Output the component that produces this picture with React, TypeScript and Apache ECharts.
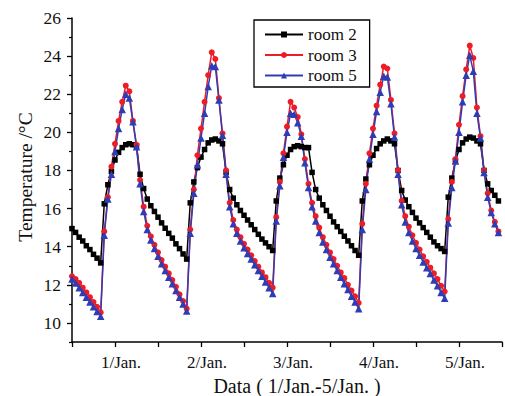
import React, { useEffect, useRef } from 'react';
import * as echarts from 'echarts';

const dayLabels = ['1/Jan.', '2/Jan.', '3/Jan.', '4/Jan.', '5/Jan.'];
const yTickValues = [10, 12, 14, 16, 18, 20, 22, 24, 26];
const yMinorValues = [9, 11, 13, 15, 17, 19, 21, 23, 25];
const seriesNames = ['room 2', 'room 3', 'room 5'];

// hourly values, hour 0 .. 119
const room2 = [
  14.95, 14.75, 14.5, 14.3, 14.05, 13.85, 13.6, 13.4, 13.15,
  16.25, 17.25, 17.95, 18.55, 18.95, 19.2, 19.35, 19.4, 19.35, 19.3, 17.8, 17.05, 16.5, 16.15, 15.85, 15.55, 15.25, 14.97, 14.7, 14.45, 14.15, 13.9, 13.62, 13.35,
  16.3, 17.4, 18.15, 18.7, 19.1, 19.45, 19.6, 19.65, 19.55, 19.4, 17.9, 17.0, 16.55, 16.2, 15.9, 15.65, 15.4, 15.15, 14.9, 14.65, 14.4, 14.2, 14.0, 13.8,
  16.4, 17.6, 18.3, 18.8, 19.1, 19.25, 19.3, 19.25, 19.2, 19.2, 17.9, 17.0, 16.55, 16.2, 15.9, 15.6, 15.3, 15.05, 14.8, 14.55, 14.3, 14.05, 13.8, 13.55,
  16.4, 17.55, 18.3, 18.8, 19.15, 19.4, 19.55, 19.65, 19.55, 19.4, 18.0, 16.95, 16.45, 16.1, 15.8, 15.5, 15.25, 15.0, 14.75, 14.5, 14.25, 14.05, 13.9, 13.75,
  16.6, 17.6, 18.5, 19.1, 19.45, 19.65, 19.75, 19.7, 19.55, 19.4, 18.0, 17.3, 16.95, 16.7, 16.4,
];

const room3 = [
  12.45, 12.3, 12.1, 11.85, 11.6, 11.35, 11.1, 10.85, 10.55,
  14.8, 16.6, 18.2, 19.4, 20.6, 21.6, 22.45, 22.15, 20.6, 19.35, 17.5, 16.1, 15.1, 14.55, 14.1, 13.7, 13.3, 12.95, 12.6, 12.25, 11.9, 11.5, 11.15, 10.75,
  14.9, 17.0, 18.8, 20.2, 21.6, 23.0, 24.2, 23.85, 21.8, 19.95, 18.0, 16.3, 15.4, 14.9, 14.5, 14.15, 13.85, 13.55, 13.25, 12.95, 12.65, 12.4, 12.1, 11.85,
  15.55, 17.4, 18.9, 20.3, 21.6, 21.3, 20.8, 19.9, 18.6, 17.3, 16.3, 15.6, 15.0, 14.5, 14.1, 13.7, 13.35, 13.0, 12.65, 12.35, 12.0, 11.7, 11.4, 11.05,
  15.2, 17.3, 18.9, 20.2, 21.4, 22.5, 23.45, 23.35, 21.7, 19.95, 18.0, 16.4, 15.6, 15.05, 14.6, 14.2, 13.85, 13.5, 13.2, 12.9, 12.6, 12.3, 11.95, 11.65,
  15.45, 17.4, 18.6, 20.4, 21.9, 23.3, 24.55, 23.9, 21.3, 19.8, 18.0, 16.8, 15.9, 15.3, 14.8,
];

const room5 = [
  12.3, 12.1, 11.85, 11.6, 11.35, 11.1, 10.85, 10.6, 10.35,
  14.6, 16.5, 17.8, 19.0, 20.2, 21.2, 22.0, 21.8, 20.55, 19.25, 17.3, 15.85, 14.9, 14.35, 13.9, 13.5, 13.1, 12.75, 12.4, 12.05, 11.7, 11.35, 11.0, 10.62,
  14.7, 16.8, 18.3, 19.7, 21.0, 22.4, 23.5, 23.45, 21.7, 19.85, 17.8, 16.1, 15.2, 14.7, 14.3, 13.95, 13.65, 13.35, 13.05, 12.75, 12.45, 12.15, 11.85, 11.55,
  15.35, 17.2, 18.7, 20.0, 21.0, 20.95, 20.5, 19.8, 18.4, 17.1, 16.1, 15.35, 14.75, 14.25, 13.85, 13.45, 13.1, 12.75, 12.4, 12.05, 11.75, 11.4, 11.1, 10.75,
  14.9, 17.0, 18.6, 19.9, 21.1, 22.1, 22.95, 22.9, 21.5, 19.75, 17.8, 16.2, 15.3, 14.75, 14.3, 13.9, 13.55, 13.2, 12.9, 12.6, 12.25, 11.95, 11.6, 11.3,
  15.25, 17.1, 18.5, 20.0, 21.6, 23.0, 24.05, 23.2, 21.0, 19.7, 17.9, 16.6, 15.8, 15.2, 14.75,
];

const FONT = "'Liberation Serif', 'Times New Roman', serif";

export default function App() {
  const ref = useRef<HTMLDivElement>(null);

  useEffect(() => {
    if (!ref.current) return;
    const chart = echarts.init(ref.current, null, { renderer: 'svg' });
    const pairs = (arr: number[]) => arr.map((v, i) => [i, v]);
    const mk = (name: string, data: number[], color: string, symbol: string, size: number) => ({
      name,
      type: 'line',
      data: pairs(data),
      symbol,
      symbolSize: size,
      showSymbol: true,
      lineStyle: { color, width: 1.5 },
      itemStyle: { color, borderWidth: 0 },
      clip: true,
    });

    chart.setOption({
      animation: false,
      backgroundColor: '#ffffff',
      grid: { left: 72, top: 18, bottom: 54, right: -3 },
      legend: {
        data: seriesNames,
        orient: 'vertical',
        left: 254,
        top: 20,
        itemWidth: 38,
        itemHeight: 7.5,
        itemGap: 3.5,
        padding: [6, 13, 3, 10],
        borderColor: '#000',
        borderWidth: 1.3,
        textStyle: { fontFamily: FONT, fontSize: 17, color: '#111', lineHeight: 17 },
      },
      xAxis: {
        type: 'value',
        min: 0,
        max: 120,
        interval: 12,
        axisLine: { show: true, onZero: false, lineStyle: { color: '#000', width: 1.5 } },
        axisTick: { show: true, length: 5, lineStyle: { color: '#000', width: 1.3 } },
        splitLine: { show: false },
        axisLabel: {
          fontFamily: FONT,
          fontSize: 17,
          color: '#111',
          margin: 12,
          padding: [0, 0, 0, 12],
          showMaxLabel: true,
          formatter: (v: number) => {
            const d = (v - 12) / 24;
            return Number.isInteger(d) && d >= 0 && d < dayLabels.length ? dayLabels[d] : '';
          },
        },
      },
      yAxis: [
        {
          type: 'value',
          min: 9,
          max: 26,
          position: 'left',
          axisLine: { show: true, onZero: false, lineStyle: { color: '#000', width: 1.5 } },
          axisTick: { show: true, length: 5, customValues: yTickValues, lineStyle: { color: '#000', width: 1.3 } },
          splitLine: { show: false },
          axisLabel: {
            customValues: yTickValues,
            fontFamily: FONT,
            fontSize: 17.5,
            color: '#111',
            margin: 11,
          },
        },
        {
          type: 'value',
          min: 9,
          max: 26,
          position: 'left',
          offset: 0,
          axisLine: { show: false },
          axisTick: { show: true, length: 3, customValues: yMinorValues, lineStyle: { color: '#000', width: 1.2 } },
          splitLine: { show: false },
          axisLabel: { show: false },
        },
      ],
      graphic: [
        {
          type: 'text',
          x: 25,
          y: 177,
          rotation: Math.PI / 2,
          style: {
            text: 'Temperature /°C',
            fontFamily: FONT,
            fontSize: 19.5,
            fill: '#111',
            align: 'center',
            verticalAlign: 'middle',
          },
        },
        {
          type: 'text',
          x: 297,
          y: 386,
          style: {
            text: 'Data ( 1/Jan.-5/Jan. )',
            fontFamily: FONT,
            fontSize: 20,
            fill: '#111',
            align: 'center',
            verticalAlign: 'middle',
          },
        },
      ],
      series: [
        mk(seriesNames[0], room2, '#000000', 'rect', 5.5),
        mk(seriesNames[1], room3, '#ee1c24', 'circle', 6),
        mk(seriesNames[2], room5, '#2e3db5', 'triangle', 7.5),
      ],
    });

    return () => chart.dispose();
  }, []);

  return (
    <div
      ref={ref}
      style={{ position: 'fixed', left: 0, top: 0, width: 505, height: 396, background: '#fff' }}
    />
  );
}
